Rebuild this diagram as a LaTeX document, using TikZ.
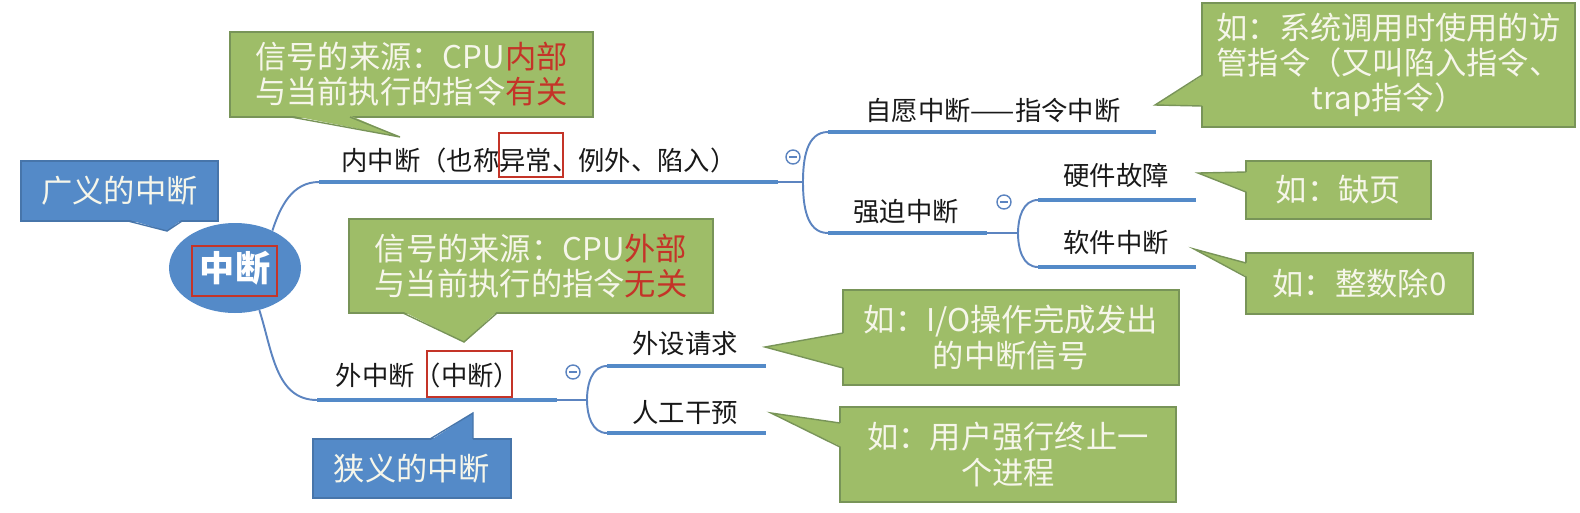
\documentclass[tikz,border=0pt]{standalone}
\usepackage{fontspec}
\setmainfont{Noto Sans CJK SC}
\usetikzlibrary{positioning,shapes.geometric}

\definecolor{boxgreen}{RGB}{158,189,104}
\definecolor{boxedge}{RGB}{120,148,88}
\definecolor{boxtext}{RGB}{246,246,234}
\definecolor{keyred}{RGB}{196,52,40}
\definecolor{mapblue}{RGB}{84,138,200}
\definecolor{linkblue}{RGB}{92,132,192}
\newcommand{\hl}[1]{\textcolor{keyred}{#1}}

\begin{document}
\begin{tikzpicture}[x=0.02cm, y=-0.02cm,
    every node/.style={inner sep=0pt},
    gbox/.style={rectangle, fill=boxgreen, draw=boxedge, line width=0.8pt, text=boxtext, align=center, font=\fontsize{17.8}{20}\selectfont},
    bbox/.style={gbox, fill=mapblue, draw=mapblue!85!black},
    gline/.style={draw=boxedge, line width=0.8pt},
    bline/.style={draw=mapblue!85!black, line width=0.8pt},
    topic/.style={font=\fontsize{15}{18}\selectfont, text=black!90},
    root/.style={ellipse, fill=mapblue, text=white, minimum width=2.64cm, minimum height=1.8cm, font=\bfseries\fontsize{20}{24}\selectfont},
    bar/.style={draw=mapblue, line width=2.8pt},
    link/.style={draw=linkblue, line width=1.1pt},
    redbox/.style={draw=keyred, line width=1.4pt},
    fold/.style={circle, draw=linkblue, fill=white, line width=0.8pt, minimum size=0.28cm,
      path picture={\draw[linkblue, line width=0.8pt] ([xshift=-2.2pt]path picture bounding box.center) -- ([xshift=2.2pt]path picture bounding box.center);}}]
  \useasboundingbox (0,0) rectangle (1580,512);

  % root
  \node[root] (root) at (235,268) {中断};
  \node[redbox, minimum width=1.7cm, minimum height=1cm] (rootmark) at (234.5,271) {};

  % branch ends
  \coordinate (in-l) at (319,182);  \coordinate (in-r) at (778,182);  \coordinate (in-j) at (803,182);
  \coordinate (out-l) at (317,400); \coordinate (out-r) at (557,400); \coordinate (out-j) at (587,400);
  \coordinate (vol-l) at (828,132); \coordinate (vol-r) at (1156,132);
  \coordinate (frc-l) at (828,233); \coordinate (frc-r) at (987,233); \coordinate (frc-j) at (1018,233);
  \coordinate (hw-l) at (1038,200); \coordinate (hw-r) at (1196,200);
  \coordinate (sw-l) at (1038,267); \coordinate (sw-r) at (1196,267);
  \coordinate (per-l) at (607,366); \coordinate (per-r) at (766,366);
  \coordinate (man-l) at (607,433); \coordinate (man-r) at (766,433);

  \path[link] (root.45) edge[out=72, in=180] (in-l)
              (root.-60) edge[out=-72, in=180] (out-l)
              (in-r) edge (in-j)
              (in-j) edge[out=90, in=180] (vol-l)
              (in-j) edge[out=-90, in=180] (frc-l)
              (frc-r) edge (frc-j)
              (frc-j) edge[out=90, in=180] (hw-l)
              (frc-j) edge[out=-90, in=180] (sw-l)
              (out-r) edge (out-j)
              (out-j) edge[out=90, in=180] (per-l)
              (out-j) edge[out=-90, in=180] (man-l);

  \foreach \a in {in,out,vol,frc,hw,sw,per,man}
    \draw[bar] (\a-l) -- (\a-r);

  % labels
  \node[topic] (inner) at (539,160) {内中断（也称异常、例外、陷入）};
  \node[topic] (outer) at (428,375) {外中断（中断）};
  \node[topic] (vol) at (993,110) {自愿中断——指令中断};
  \node[topic] (frc) at (906,212) {强迫中断};
  \node[topic] (hw) at (1116,175) {硬件故障};
  \node[topic] (sw) at (1116,243) {软件中断};
  \node[topic] (per) at (685,343) {外设请求};
  \node[topic] (man) at (685,412) {人工干预};
  \draw[redbox] (499,133) rectangle (563,177);
  \draw[redbox] (427,351) rectangle (512,397);

  \node[fold] (in-fold) at (793,157) {};
  \node[fold] (frc-fold) at (1004,202) {};
  \node[fold] (out-fold) at (573,372) {};

  % callouts
  \node[gbox, minimum width=7.26cm, minimum height=1.7cm] (srcin) at (411.5,74.5) {信号的来源：CPU\hl{内部}\\与当前执行的指令\hl{有关}};
  \fill[boxgreen] (291,115.5) -- (400,137) -- (350,115.5) -- cycle;
  \draw[gline] (291,117) -- (400,137) -- (350,117);

  \node[gbox, minimum width=7.28cm, minimum height=1.88cm] (srcout) at (531,266) {信号的来源：CPU\hl{外部}\\与当前执行的指令\hl{无关}};
  \fill[boxgreen] (403,311.5) -- (464,342) -- (497,311.5) -- cycle;
  \draw[gline] (403,313) -- (464,342) -- (497,313);

  \node[bbox, minimum width=3.94cm, minimum height=1.2cm] (broad) at (119.5,191) {广义的中断};
  \fill[mapblue] (128,219.5) -- (167,231) -- (182,219.5) -- cycle;
  \draw[bline] (128,221) -- (167,231) -- (182,221);

  \node[bbox, minimum width=3.96cm, minimum height=1.18cm] (narrow) at (412,468.5) {狭义的中断};
  \fill[mapblue] (430,440.5) -- (473,413) -- (473,440.5) -- cycle;
  \draw[bline] (430,439) -- (473,413) -- (473,439);

  \node[gbox, minimum width=7.46cm, minimum height=2.48cm] (trapnote) at (1388.5,65) {如：系统调用时使用的访\\管指令（又叫陷入指令、\\trap指令）};
  \fill[boxgreen] (1203.5,75) -- (1155,105) -- (1203.5,106) -- cycle;
  \draw[gline] (1202,75) -- (1155,105) -- (1202,106);

  \node[gbox, minimum width=3.7cm, minimum height=1.16cm] (pfnote) at (1338.5,190) {如：缺页};
  \fill[boxgreen] (1247.5,172) -- (1198,173) -- (1247.5,192) -- cycle;
  \draw[gline] (1246,172) -- (1198,173) -- (1246,192);

  \node[gbox, minimum width=4.54cm, minimum height=1.22cm] (divnote) at (1359.5,283.5) {如：整数除0};
  \fill[boxgreen] (1247.5,263) -- (1194,249) -- (1247.5,277) -- cycle;
  \draw[gline] (1246,263) -- (1194,249) -- (1246,277);

  \node[gbox, minimum width=6.72cm, minimum height=1.9cm] (ionote) at (1011,337.5) {如：I/O操作完成发出\\的中断信号};
  \fill[boxgreen] (844.5,333) -- (765,347) -- (844.5,368) -- cycle;
  \draw[gline] (843,333) -- (765,347) -- (843,368);

  \node[gbox, minimum width=6.72cm, minimum height=1.9cm] (killnote) at (1008,454.5) {如：用户强行终止一\\个进程};
  \fill[boxgreen] (841.5,423) -- (771,413) -- (841.5,447) -- cycle;
  \draw[gline] (840,423) -- (771,413) -- (840,447);
\end{tikzpicture}
\end{document}
